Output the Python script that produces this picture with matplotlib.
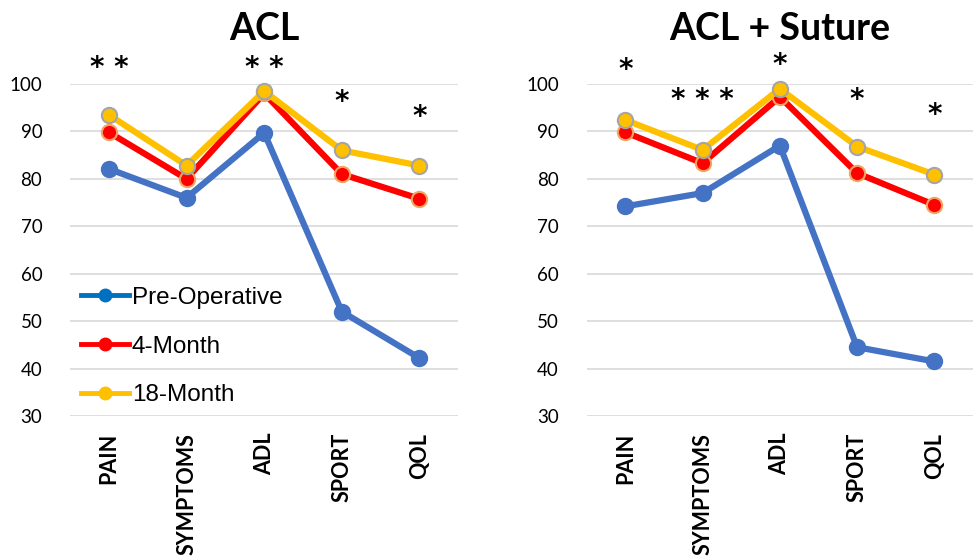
import matplotlib
matplotlib.use("Agg")
import matplotlib.pyplot as plt

categories = ["PAIN", "SYMPTOMS", "ADL", "SPORT", "QOL"]
yticks = [30, 40, 50, 60, 70, 80, 90, 100]

acl_pre = [82.1, 76.0, 89.7, 52.0, 42.2]
acl_4m = [89.8, 80.0, 98.0, 81.0, 75.8]
acl_18m = [93.5, 82.8, 98.5, 86.0, 82.8]
acl_stars = ["**", "", "**", "*", "*"]
acl_star_y = [103.4, 0, 103.4, 96.2, 93.0]

sut_pre = [74.2, 77.0, 87.0, 44.5, 41.5]
sut_4m = [89.8, 83.3, 97.3, 81.2, 74.5]
sut_18m = [92.4, 86.1, 99.0, 86.8, 80.9]
sut_stars = ["*", "***", "*", "*", "*"]
sut_star_y = [103.0, 96.6, 104.0, 96.6, 93.5]

series_names = ["Pre-Operative", "4-Month", "18-Month"]
line_colors = ["#4472C4", "#FF0000", "#FFC000"]
edge_colors = ["#4472C4", "#F4A460", "#A5A5A5"]
legend_colors = ["#0070C0", "#FF0000", "#FFC000"]

fig = plt.figure(figsize=(9.73, 5.58), dpi=100)
ax1 = fig.add_axes([0.072, 0.2545, 0.399, 0.595])
ax2 = fig.add_axes([0.603, 0.2545, 0.397, 0.595])


def draw_panel(ax, title, data, stars, star_y):
    x = range(len(categories))
    for vals, col, ecol in zip(data, line_colors, edge_colors):
        ax.plot(x, vals, color=col, lw=4.5, marker="o", ms=11,
                mfc=col, mec=ecol, mew=1.5, clip_on=False, zorder=3)
    for i, s in enumerate(stars):
        if s:
            ax.text(i, star_y[i], " ".join(s), ha="center", va="center",
                    fontsize=20, fontweight="bold", family="DejaVu Sans")
    ax.set_xlim(-0.5, len(categories) - 0.5)
    ax.set_ylim(30, 100)
    ax.set_yticks(yticks)
    ax.set_xticks(list(x))
    ax.set_xticklabels(categories, rotation=90, fontsize=15.5,
                       fontweight="bold", family="Lato")
    for lab in ax.get_yticklabels():
        lab.set_fontsize(13.5)
        lab.set_family("Lato")
    ax.grid(axis="y", color="#D9D9D9", lw=1.2)
    ax.set_axisbelow(True)
    for sp in ax.spines.values():
        sp.set_visible(False)
    ax.tick_params(length=0)
    ax.tick_params(axis="y", pad=20)
    ax.tick_params(axis="x", pad=12)
    ax.set_title(title, fontsize=27, fontweight="bold", family="Lato", pad=32)


draw_panel(ax1, "ACL", [acl_pre, acl_4m, acl_18m], acl_stars, acl_star_y)
draw_panel(ax2, "ACL + Suture", [sut_pre, sut_4m, sut_18m], sut_stars, sut_star_y)

handles = [plt.Line2D([], [], color=c, lw=3.5, marker="o", ms=9, mfc=c, mec=c)
           for c in legend_colors]
ax1.legend(handles, series_names, loc="lower left", bbox_to_anchor=(-0.01, -0.015),
           frameon=False, labelspacing=1.1, handlelength=2.0,
           handletextpad=0.1, borderaxespad=0.2,
           prop={"family": "Liberation Sans", "size": 17.5})

fig.savefig("out.png", dpi=100)
